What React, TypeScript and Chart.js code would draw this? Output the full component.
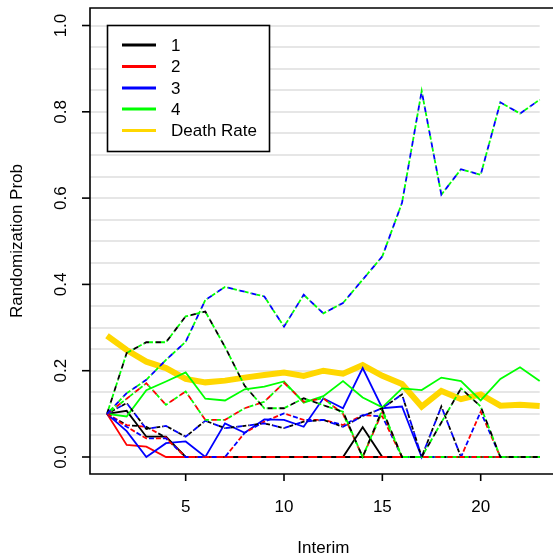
import React, { useEffect, useRef } from "react";
import { Chart, registerables } from "chart.js";

Chart.register(...registerables);

// Interim analyses
const interims = [1, 2, 3, 4, 5, 6, 7, 8, 9, 10, 11, 12, 13, 14, 15, 16, 17, 18, 19, 20, 21, 22, 23];

// Randomization probabilities, one solid trace per arm
const arm1 = [0.1, 0.107, 0.047, 0.047, 0, 0, 0, 0, 0, 0, 0, 0, 0, 0.069, 0, 0, 0, 0, 0, 0, 0, 0, 0];
const arm2 = [0.1, 0.028, 0.024, 0, 0, 0, 0, 0, 0, 0, 0, 0, 0, 0, 0, 0, 0, 0, 0, 0, 0, 0, 0];
const arm3 = [0.1, 0.06, 0, 0.032, 0.036, 0, 0.078, 0.056, 0.087, 0.086, 0.07, 0.136, 0.113, 0.206, 0.113, 0.117, 0, 0, 0, 0, 0, 0, 0];
const arm4 = [0.1, 0.094, 0.155, 0.175, 0.196, 0.135, 0.131, 0.157, 0.163, 0.175, 0.126, 0.141, 0.176, 0.138, 0.115, 0.159, 0.155, 0.184, 0.176, 0.131, 0.181, 0.208, 0.176];
const deathRate = [0.281, 0.248, 0.221, 0.206, 0.181, 0.173, 0.177, 0.184, 0.19, 0.196, 0.188, 0.2, 0.193, 0.213, 0.188, 0.169, 0.117, 0.153, 0.134, 0.145, 0.119, 0.121, 0.118];

// Tied arm pairs from the other scenarios (drawn as two-colour broken lines)
const tieBlueGreen = [0.1, 0.148, 0.179, 0.225, 0.267, 0.364, 0.394, 0.383, 0.372, 0.302, 0.376, 0.333, 0.357, 0.411, 0.465, 0.589, 0.848, 0.608, 0.667, 0.654, 0.822, 0.796, 0.828];
const tieBlackGreen = [0.1, 0.241, 0.266, 0.266, 0.326, 0.337, 0.255, 0.165, 0.113, 0.113, 0.136, 0.12, 0.105, 0, 0.11, 0, 0, 0.08, 0.159, 0.117, 0, 0, 0];
const tieBlackRed = [0.1, 0.074, 0.07, 0.045, 0, 0, 0, 0, 0, 0, 0, 0, 0, 0, 0, 0, 0, 0, 0, 0, 0, 0, 0];
const tieRedGreen = [0.1, 0.135, 0.171, 0.121, 0.152, 0.086, 0.086, 0.113, 0.128, 0.172, 0.128, 0.136, 0.1, 0, 0.105, 0, 0, 0, 0, 0, 0, 0, 0];
const tieBlueBlack = [0.1, 0.125, 0.065, 0.072, 0.047, 0.084, 0.067, 0.072, 0.078, 0.067, 0.082, 0.086, 0.07, 0.095, 0.113, 0.145, 0, 0.117, 0, 0, 0, 0, 0];
const tieRedBlue = [0.1, 0.07, 0.043, 0.043, 0, 0, 0, 0.056, 0.082, 0.101, 0.086, 0.086, 0.074, 0.097, 0.094, 0, 0, 0, 0, 0.105, 0, 0, 0];

const xTicks = [5, 10, 15, 20];
const yTicks = [0, 0.2, 0.4, 0.6, 0.8, 1.0];
const yTickLabels = ["0.0", "0.2", "0.4", "0.6", "0.8", "1.0"];
const legendLabels = ["1", "2", "3", "4", "Death Rate"];

const BLACK = "#000000";
const RED = "#ff0000";
const BLUE = "#0000ff";
const GREEN = "#00ff00";
const GOLD = "#ffd700";
const legendColors = [BLACK, RED, BLUE, GREEN, GOLD];

const FONT = '17px "Liberation Sans", Arial, sans-serif';

const pts = (vals: number[]) => vals.map((v, i) => ({ x: interims[i], y: v }));

const solid = (vals: number[], color: string, width: number, order: number) => ({
  data: pts(vals),
  borderColor: color,
  borderWidth: width,
  pointRadius: 0,
  tension: 0,
  fill: false,
  order,
});

// two overlapping copies with interleaved dash patterns
const pair = (vals: number[], c1: string, c2: string, dotted: boolean, order: number) => {
  const base = { data: pts(vals), borderWidth: 1.8, pointRadius: 0, tension: 0, fill: false, order };
  if (dotted) {
    return [
      { ...base, borderColor: c1, borderDash: [5, 7], borderDashOffset: 0 },
      { ...base, borderColor: c2, borderDash: [4, 2, 1, 5], borderDashOffset: -5 },
    ];
  }
  return [
    { ...base, borderColor: c1, borderDash: [5, 9], borderDashOffset: 0 },
    { ...base, borderColor: c2, borderDash: [5, 9], borderDashOffset: -7 },
  ];
};

const decorations = {
  id: "baseGraphics",
  beforeDatasetsDraw(chart: any) {
    const { ctx, chartArea, scales } = chart;
    const xs = scales.x;
    const ys = scales.y;
    ctx.save();
    ctx.strokeStyle = "#e6e6e6";
    ctx.lineWidth = 2;
    const xEnd = xs.getPixelForValue(interims[interims.length - 1]);
    for (let k = 0; k <= 20; k++) {
      const y = Math.round(ys.getPixelForValue(k * 0.05));
      ctx.beginPath();
      ctx.moveTo(chartArea.left, y);
      ctx.lineTo(xEnd, y);
      ctx.stroke();
    }
    ctx.restore();
  },
  afterDraw(chart: any) {
    const { ctx, chartArea, scales } = chart;
    const xs = scales.x;
    const ys = scales.y;
    const L = chartArea.left;
    const T = chartArea.top;
    const B = chartArea.bottom;
    const R = chart.width;
    ctx.save();
    ctx.strokeStyle = BLACK;
    ctx.lineWidth = 1.6;
    ctx.beginPath();
    ctx.moveTo(R, T);
    ctx.lineTo(L, T);
    ctx.lineTo(L, B);
    ctx.lineTo(R, B);
    ctx.stroke();

    ctx.fillStyle = BLACK;
    ctx.font = FONT;

    // y axis ticks and labels
    yTicks.forEach((v, i) => {
      const y = ys.getPixelForValue(v);
      ctx.beginPath();
      ctx.moveTo(L, y);
      ctx.lineTo(L - 8, y);
      ctx.stroke();
      ctx.save();
      ctx.translate(61, y);
      ctx.rotate(-Math.PI / 2);
      ctx.textAlign = "center";
      ctx.textBaseline = "middle";
      ctx.fillText(yTickLabels[i], 0, 0);
      ctx.restore();
    });

    // x axis ticks and labels
    xTicks.forEach((v) => {
      const x = xs.getPixelForValue(v);
      ctx.beginPath();
      ctx.moveTo(x, B);
      ctx.lineTo(x, B + 7);
      ctx.stroke();
      ctx.textAlign = "center";
      ctx.textBaseline = "middle";
      ctx.fillText(String(v), x, 507);
    });

    // axis titles
    ctx.textAlign = "center";
    ctx.textBaseline = "middle";
    ctx.fillText("Interim", xs.getPixelForValue(12), 548);
    ctx.save();
    ctx.translate(17, (T + B) / 2);
    ctx.rotate(-Math.PI / 2);
    ctx.fillText("Randomization Prob", 0, 0);
    ctx.restore();

    // legend
    const bx = 107.5, by = 25.5, bw = 162, bh = 126;
    ctx.fillStyle = "#ffffff";
    ctx.fillRect(bx, by, bw, bh);
    ctx.lineWidth = 1.6;
    ctx.strokeStyle = BLACK;
    ctx.strokeRect(bx, by, bw, bh);
    const rowsY = [45, 66.5, 88, 109, 130.5];
    legendLabels.forEach((lab, i) => {
      ctx.strokeStyle = legendColors[i];
      ctx.lineWidth = 3;
      ctx.beginPath();
      ctx.moveTo(122, rowsY[i]);
      ctx.lineTo(156, rowsY[i]);
      ctx.stroke();
      ctx.fillStyle = BLACK;
      ctx.textAlign = "left";
      ctx.textBaseline = "middle";
      ctx.fillText(lab, 171, rowsY[i] + 1);
    });
    ctx.restore();
  },
};

export default function App() {
  const ref = useRef<HTMLCanvasElement | null>(null);

  useEffect(() => {
    if (!ref.current) return;
    const datasets: any[] = [
      solid(deathRate, GOLD, 6, 100),
      solid(arm1, BLACK, 1.8, 60),
      solid(arm2, RED, 1.8, 59),
      solid(arm3, BLUE, 1.8, 58),
      solid(arm4, GREEN, 1.8, 57),
      ...pair(tieBlackRed, BLACK, RED, false, 20),
      ...pair(tieRedBlue, RED, BLUE, false, 19),
      ...pair(tieBlueBlack, BLUE, BLACK, true, 18),
      ...pair(tieRedGreen, RED, GREEN, true, 17),
      ...pair(tieBlackGreen, BLACK, GREEN, true, 16),
      ...pair(tieBlueGreen, BLUE, GREEN, true, 15),
    ];
    const chart = new Chart(ref.current, {
      type: "line",
      data: { datasets },
      options: {
        animation: false,
        responsive: false,
        devicePixelRatio: 1,
        layout: { padding: { left: 90, top: 8, right: 0, bottom: 85 } },
        plugins: { legend: { display: false }, tooltip: { enabled: false } },
        scales: {
          x: { type: "linear", min: 0.1356, max: 23.677, display: false },
          y: { type: "linear", min: -0.0394, max: 1.0406, display: false },
        },
      },
      plugins: [decorations],
    });
    return () => chart.destroy();
  }, []);

  return (
    <div style={{ position: "absolute", left: 0, top: 0, width: 553, height: 559, background: "#fff" }}>
      <canvas ref={ref} width={553} height={559} />
    </div>
  );
}
